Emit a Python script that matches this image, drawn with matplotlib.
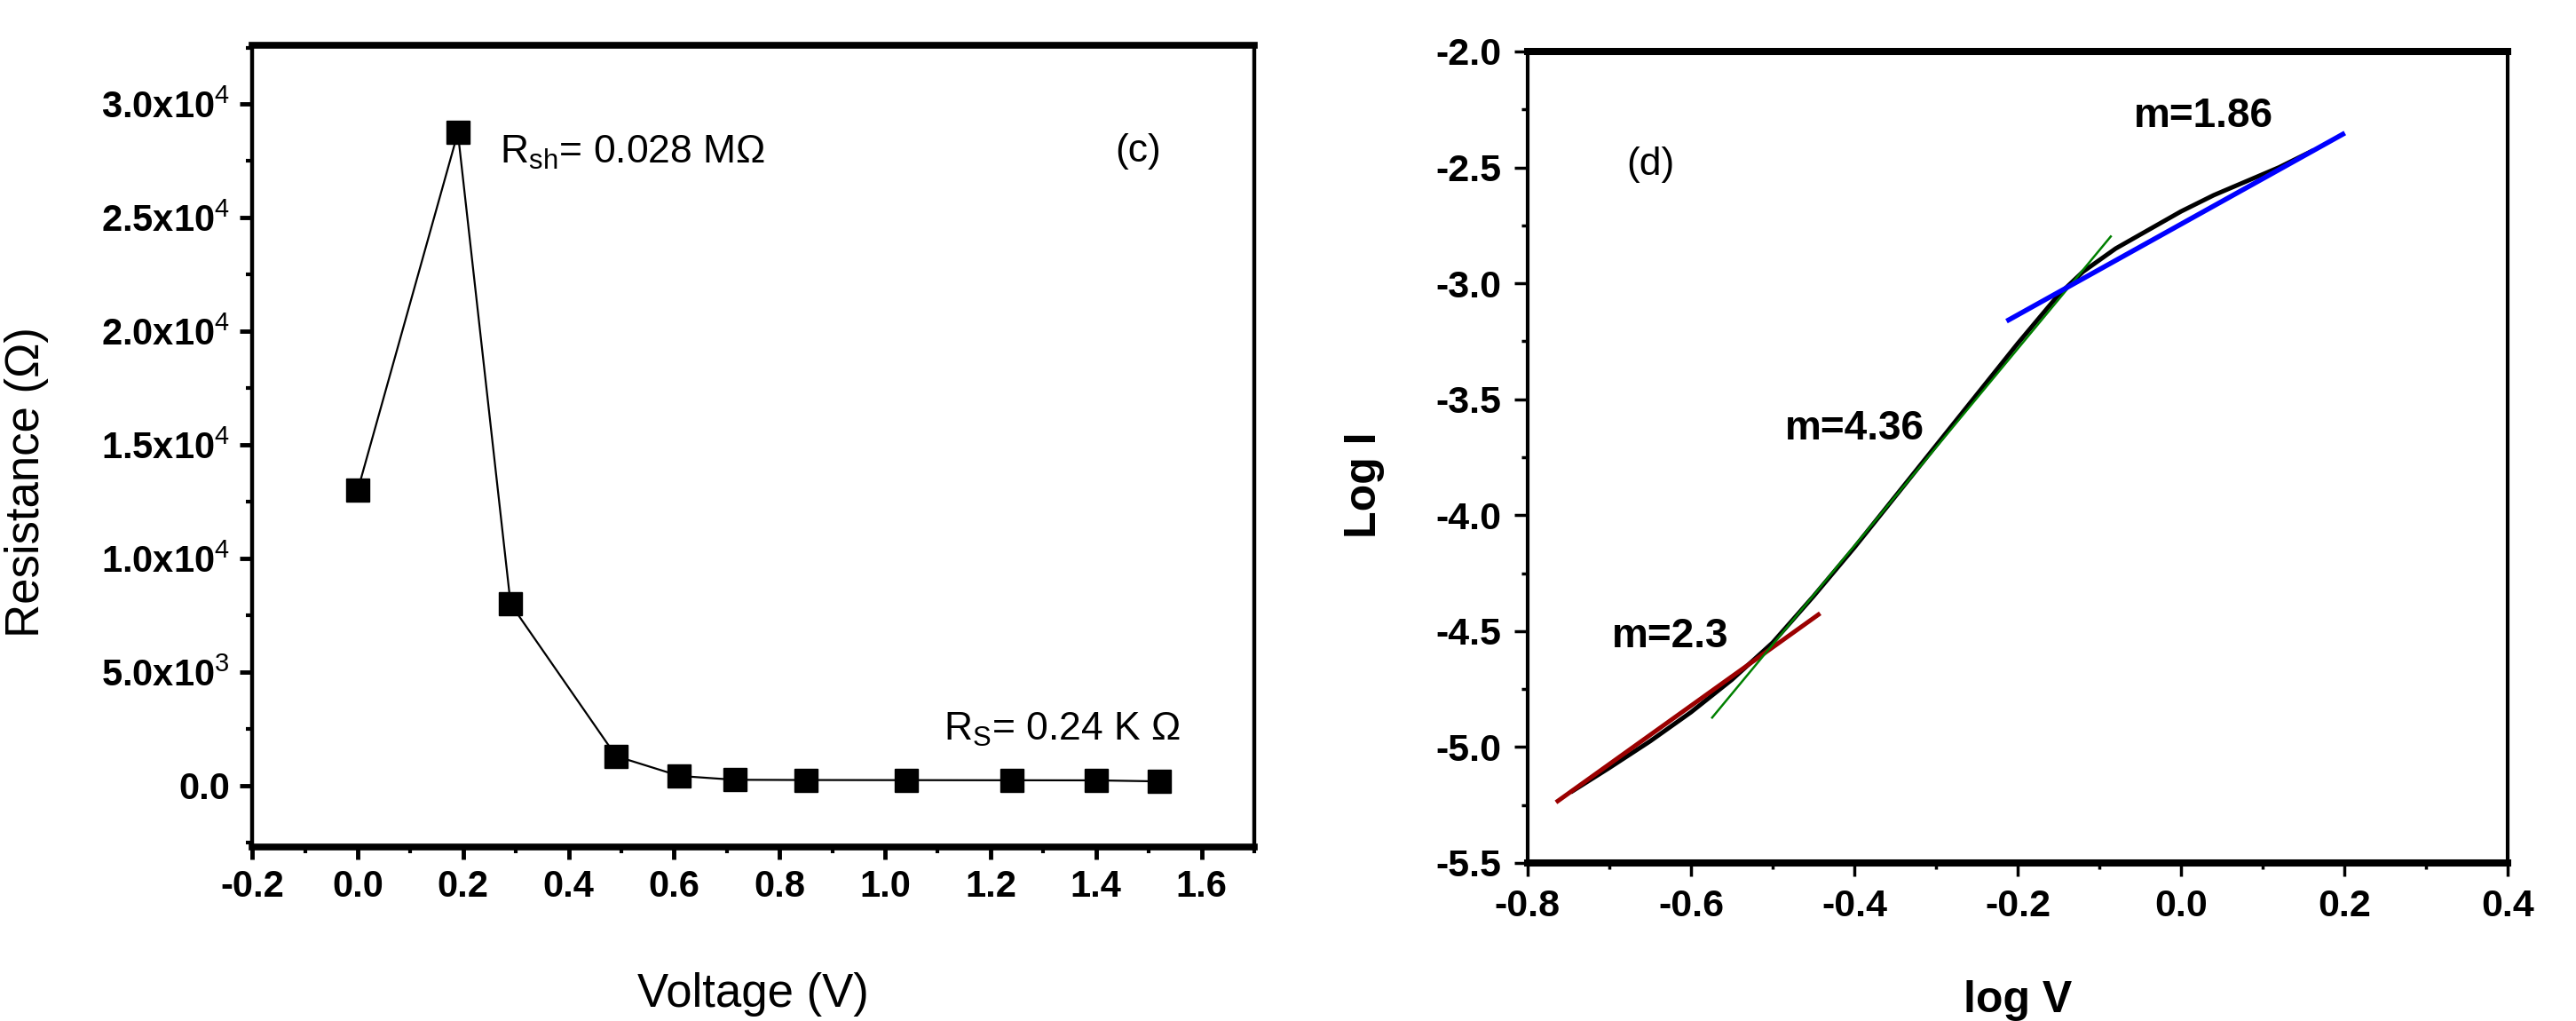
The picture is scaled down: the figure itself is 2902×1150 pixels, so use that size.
import numpy as np
import matplotlib
matplotlib.use("Agg")
import matplotlib.pyplot as plt
from matplotlib.ticker import AutoMinorLocator

plt.rcParams['font.family'] = ['Liberation Sans', 'DejaVu Sans']
plt.rcParams['mathtext.fontset'] = 'custom'
plt.rcParams['mathtext.rm'] = 'Liberation Sans'
plt.rcParams['mathtext.it'] = 'Liberation Sans'
plt.rcParams['mathtext.bf'] = 'Liberation Sans:bold'

# panel (c): resistance vs voltage
voltage = [0.0, 0.19, 0.29, 0.49, 0.61, 0.715, 0.85, 1.04, 1.24, 1.40, 1.52]
resistance = [13000, 28750, 8000, 1300, 430, 260, 250, 245, 240, 235, 190]
c_yticks = [0, 5000, 10000, 15000, 20000, 25000, 30000]
c_ylabels = ['0.0', r'5.0x10$^{3}$', r'1.0x10$^{4}$', r'1.5x10$^{4}$',
             r'2.0x10$^{4}$', r'2.5x10$^{4}$', r'3.0x10$^{4}$']
c_xticks = [-0.2, 0.0, 0.2, 0.4, 0.6, 0.8, 1.0, 1.2, 1.4, 1.6]

# panel (d): log I vs log V and the three linear fits
logv = [-0.745, -0.70, -0.65, -0.60, -0.55, -0.50, -0.45, -0.40, -0.35, -0.30,
        -0.25, -0.20, -0.15, -0.12, -0.08, -0.04, 0.00, 0.04, 0.08, 0.12, 0.16]
logi = [-5.19, -5.09, -4.975, -4.85, -4.71, -4.55, -4.35, -4.14, -3.92, -3.70,
        -3.48, -3.26, -3.05, -2.95, -2.85, -2.77, -2.69, -2.62, -2.56, -2.50, -2.43]
fit_red_x, fit_red_y = [-0.763, -0.444], [-5.233, -4.429]
fit_green_x, fit_green_y = [-0.574, -0.086], [-4.873, -2.798]
fit_blue_x, fit_blue_y = [-0.211, 0.198], [-3.158, -2.357]
d_xticks = [-0.8, -0.6, -0.4, -0.2, 0.0, 0.2, 0.4]
d_yticks = [-5.5, -5.0, -4.5, -4.0, -3.5, -3.0, -2.5, -2.0]

fig = plt.figure(figsize=(29.02, 11.5), dpi=100)

# ---- left panel
ax1 = fig.add_axes([0.0979, 0.1704, 0.389, 0.7853])
ax1.plot(voltage, resistance, color='black', lw=1.6, marker='s', ms=19,
         mfc='black', mec='black')
ax1.set_xlim(-0.2, 1.7)
ax1.set_ylim(-2700, 32600)
ax1.set_xticks(c_xticks, [f'{v:.1f}' for v in c_xticks])
ax1.set_yticks(c_yticks, c_ylabels)
ax1.xaxis.set_minor_locator(AutoMinorLocator(2))
ax1.yaxis.set_minor_locator(AutoMinorLocator(2))
ax1.tick_params(which='major', direction='out', length=10, width=3.5,
                labelsize=30, pad=8)
ax1.tick_params(which='minor', direction='out', length=5, width=3)
for lab in ax1.get_xticklabels() + ax1.get_yticklabels():
    lab.set_fontweight('bold')
for s in ['left', 'right']:
    ax1.spines[s].set_linewidth(3.2)
for s in ['top', 'bottom']:
    ax1.spines[s].set_linewidth(5.5)
ax1.set_xlabel('Voltage (V)', fontsize=38)
ax1.set_ylabel('Resistance (Ω)', fontsize=38)
ax1.xaxis.set_label_coords(0.5, -0.156)
ax1.yaxis.set_label_coords(-0.203, 0.455)
ax1.text(0.269, 27420, r'R$_{\mathregular{sh}}$= 0.028 MΩ', fontsize=32)
ax1.text(1.111, 2000, r'R$_{\mathregular{S}}$= 0.24 K Ω', fontsize=32)
ax1.text(1.479, 27930, '(c)', fontsize=32, ha='center', va='center')

# ---- right panel
ax2 = fig.add_axes([0.5930, 0.1548, 0.3805, 0.7948])
ax2.plot(logv, logi, color='black', lw=3.6)
ax2.plot(fit_red_x, fit_red_y, color='#9b0000', lw=3.6)
ax2.plot(fit_green_x, fit_green_y, color='#008000', lw=1.8)
ax2.plot(fit_blue_x, fit_blue_y, color='#0000ff', lw=4.0)
ax2.set_xlim(-0.8, 0.4)
ax2.set_ylim(-5.5, -2.0)
ax2.set_xticks(d_xticks, [f'{v:.1f}' for v in d_xticks])
ax2.set_yticks(d_yticks, [f'{v:.1f}' for v in d_yticks])
ax2.xaxis.set_minor_locator(AutoMinorLocator(2))
ax2.yaxis.set_minor_locator(AutoMinorLocator(2))
ax2.tick_params(which='major', direction='out', length=11, width=2.5,
                labelsize=31, pad=10)
ax2.tick_params(which='minor', direction='out', length=5, width=2.5)
for lab in ax2.get_xticklabels() + ax2.get_yticklabels():
    lab.set_fontweight('bold')
for s in ['left', 'right']:
    ax2.spines[s].set_linewidth(3.0)
for s in ['top', 'bottom']:
    ax2.spines[s].set_linewidth(5.8)
ax2.set_xlabel('log V', fontsize=36, fontweight='bold')
ax2.set_ylabel('Log I', fontsize=36, fontweight='bold')
ax2.xaxis.set_label_coords(0.5, -0.144)
ax2.yaxis.set_label_coords(-0.146, 0.466)
ax2.text(-0.649, -2.488, '(d)', fontsize=32, ha='center', va='center')
ax2.text(-0.058, -2.281, 'm=1.86', fontsize=33, fontweight='bold', va='center')
ax2.text(-0.485, -3.627, 'm=4.36', fontsize=33, fontweight='bold', va='center')
ax2.text(-0.697, -4.523, 'm=2.3', fontsize=33, fontweight='bold', va='center')

fig.savefig('out.png', dpi=100)
